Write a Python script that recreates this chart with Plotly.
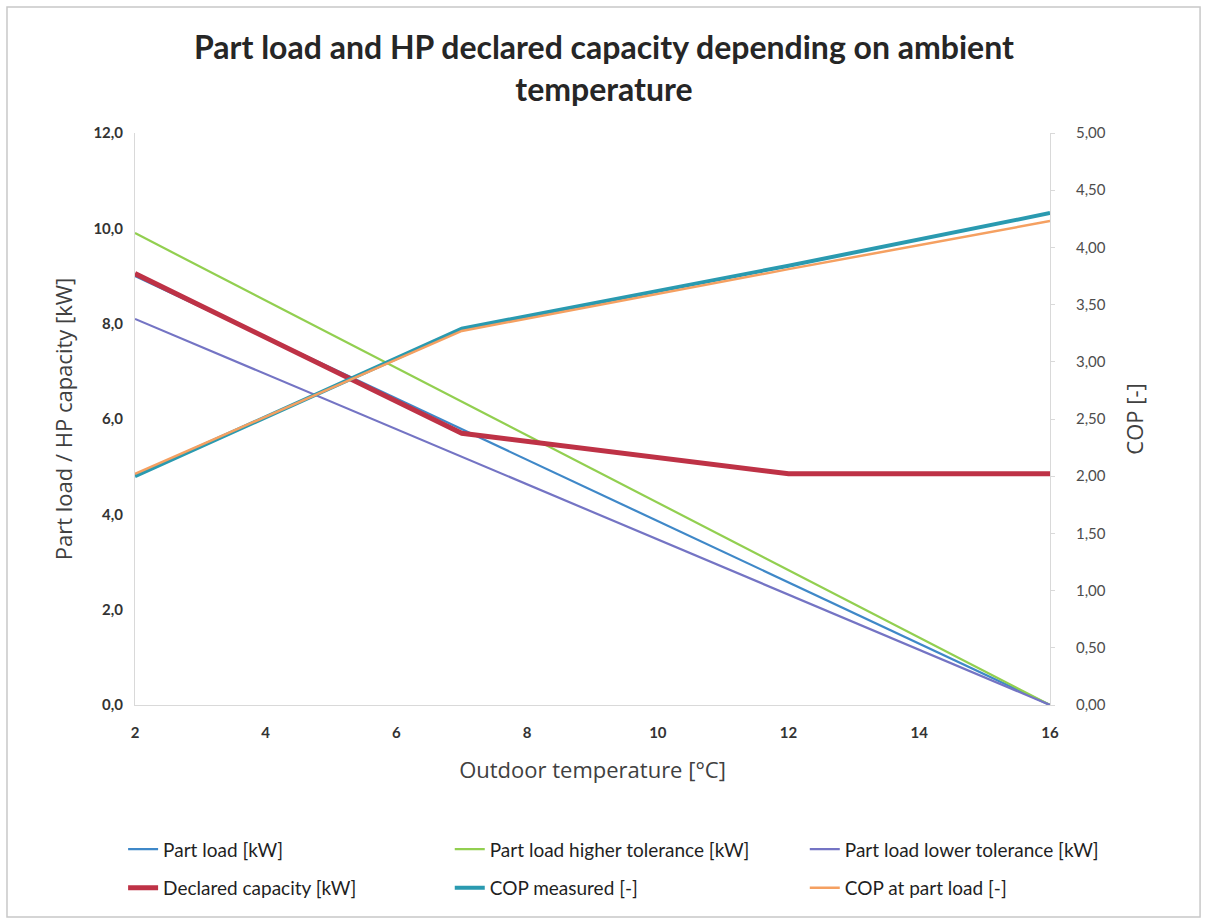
import plotly.graph_objects as go

temps = [2, 7, 12, 16]
part_load = [9.0, 5.79, 2.57, 0.0]
part_load_high = [9.9, 6.36, 2.83, 0.0]
part_load_low = [8.1, 5.21, 2.31, 0.0]
declared_capacity = [9.05, 5.70, 4.85, 4.85]
cop_measured = [2.0, 3.29, 3.84, 4.30]
cop_part_load = [2.02, 3.27, 3.81, 4.23]

x_ticks = [2, 4, 6, 8, 10, 12, 14, 16]
y_ticks = [0, 2, 4, 6, 8, 10, 12]
y2_ticks = [0, 0.5, 1, 1.5, 2, 2.5, 3, 3.5, 4, 4.5, 5]

fig = go.Figure()
fig.add_trace(go.Scatter(x=temps, y=part_load, mode="lines", name="Part load [kW]",
                         legend="legend", legendgroup="a",
                         line=dict(color="#3F88C8", width=2.2)))
fig.add_trace(go.Scatter(x=temps, y=part_load_high, mode="lines", name="Part load higher tolerance [kW]",
                         legend="legend2", legendgroup="b",
                         line=dict(color="#92CF50", width=2.2)))
fig.add_trace(go.Scatter(x=temps, y=part_load_low, mode="lines", name="Part load lower tolerance [kW]",
                         legend="legend3", legendgroup="c",
                         line=dict(color="#7474C4", width=2.2)))
fig.add_trace(go.Scatter(x=temps, y=declared_capacity, mode="lines", name="Declared capacity [kW]",
                         legend="legend", legendgroup="d",
                         line=dict(color="#BE3246", width=5)))
fig.add_trace(go.Scatter(x=temps, y=cop_measured, mode="lines", name="COP measured [-]", yaxis="y2",
                         legend="legend2", legendgroup="e",
                         line=dict(color="#2A9AB0", width=4)))
fig.add_trace(go.Scatter(x=temps, y=cop_part_load, mode="lines", name="COP at part load [-]", yaxis="y2",
                         legend="legend3", legendgroup="f",
                         line=dict(color="#F5A061", width=2.5)))

tick_font = dict(family="Lato, Open Sans, sans-serif", size=15, color="#333333", weight="bold")
tick_font2 = dict(family="Lato, Open Sans, sans-serif", size=15, color="#4D4D4D")
axis_title_font = dict(family="Open Sans, sans-serif", size=22, color="#404040")
legend_font = dict(family="Lato, sans-serif", size=19, color="#1F1F1F")

legend_common = dict(orientation="v", xanchor="left", yanchor="top", y=-0.219,
                     font=legend_font, tracegroupgap=11, itemwidth=30,
                     bgcolor="rgba(0,0,0,0)")

fig.update_layout(
    width=1205, height=919,
    separators=", ",
    paper_bgcolor="white", plot_bgcolor="white",
    margin=dict(l=135, r=155, t=133, b=214),
    xaxis=dict(range=[2, 16], tickvals=x_ticks, ticktext=[str(v) for v in x_ticks],
               showgrid=False, zeroline=False, showline=True, linecolor="#D9D9D9", linewidth=1,
               tickfont=tick_font, ticks="", ticklabelstandoff=14,
               title=dict(text="Outdoor temperature [°C]", standoff=22, font=axis_title_font)),
    yaxis=dict(range=[0, 12], tickvals=y_ticks, tickformat=".1f",
               showgrid=False, zeroline=False, showline=True, linecolor="#D9D9D9", linewidth=1,
               tickfont=tick_font, ticks="", ticklabelstandoff=8,
               title=dict(text="Part load / HP capacity [kW]", standoff=14, font=axis_title_font)),
    yaxis2=dict(range=[0, 5], tickvals=y2_ticks, tickformat=".2f",
                overlaying="y", side="right", anchor="x",
                showgrid=False, zeroline=False, showline=True, linecolor="#D9D9D9", linewidth=1,
                ticks="outside", ticklen=4, tickcolor="#D9D9D9",
                tickfont=tick_font2, ticklabelstandoff=18,
                title=dict(text="COP [-]", standoff=22, font=axis_title_font)),
    legend=dict(x=-0.013, **legend_common),
    legend2=dict(x=0.344, **legend_common),
    legend3=dict(x=0.732, **legend_common),
    annotations=[dict(text="<b>Part load and HP declared capacity depending on ambient<br>temperature</b>",
                      xref="paper", yref="paper", x=0.5126, y=1.1145, xanchor="center", yanchor="middle",
                      showarrow=False,
                      font=dict(family="Lato, sans-serif", size=32, color="#262626"))],
    shapes=[dict(type="rect", xref="paper", yref="paper", x0=-0.1399, x1=1.164, y0=-0.3706, y1=1.2203,
                 line=dict(color="#C8C8C8", width=1.5))],
    showlegend=True,
)

fig.write_html("out.html")
